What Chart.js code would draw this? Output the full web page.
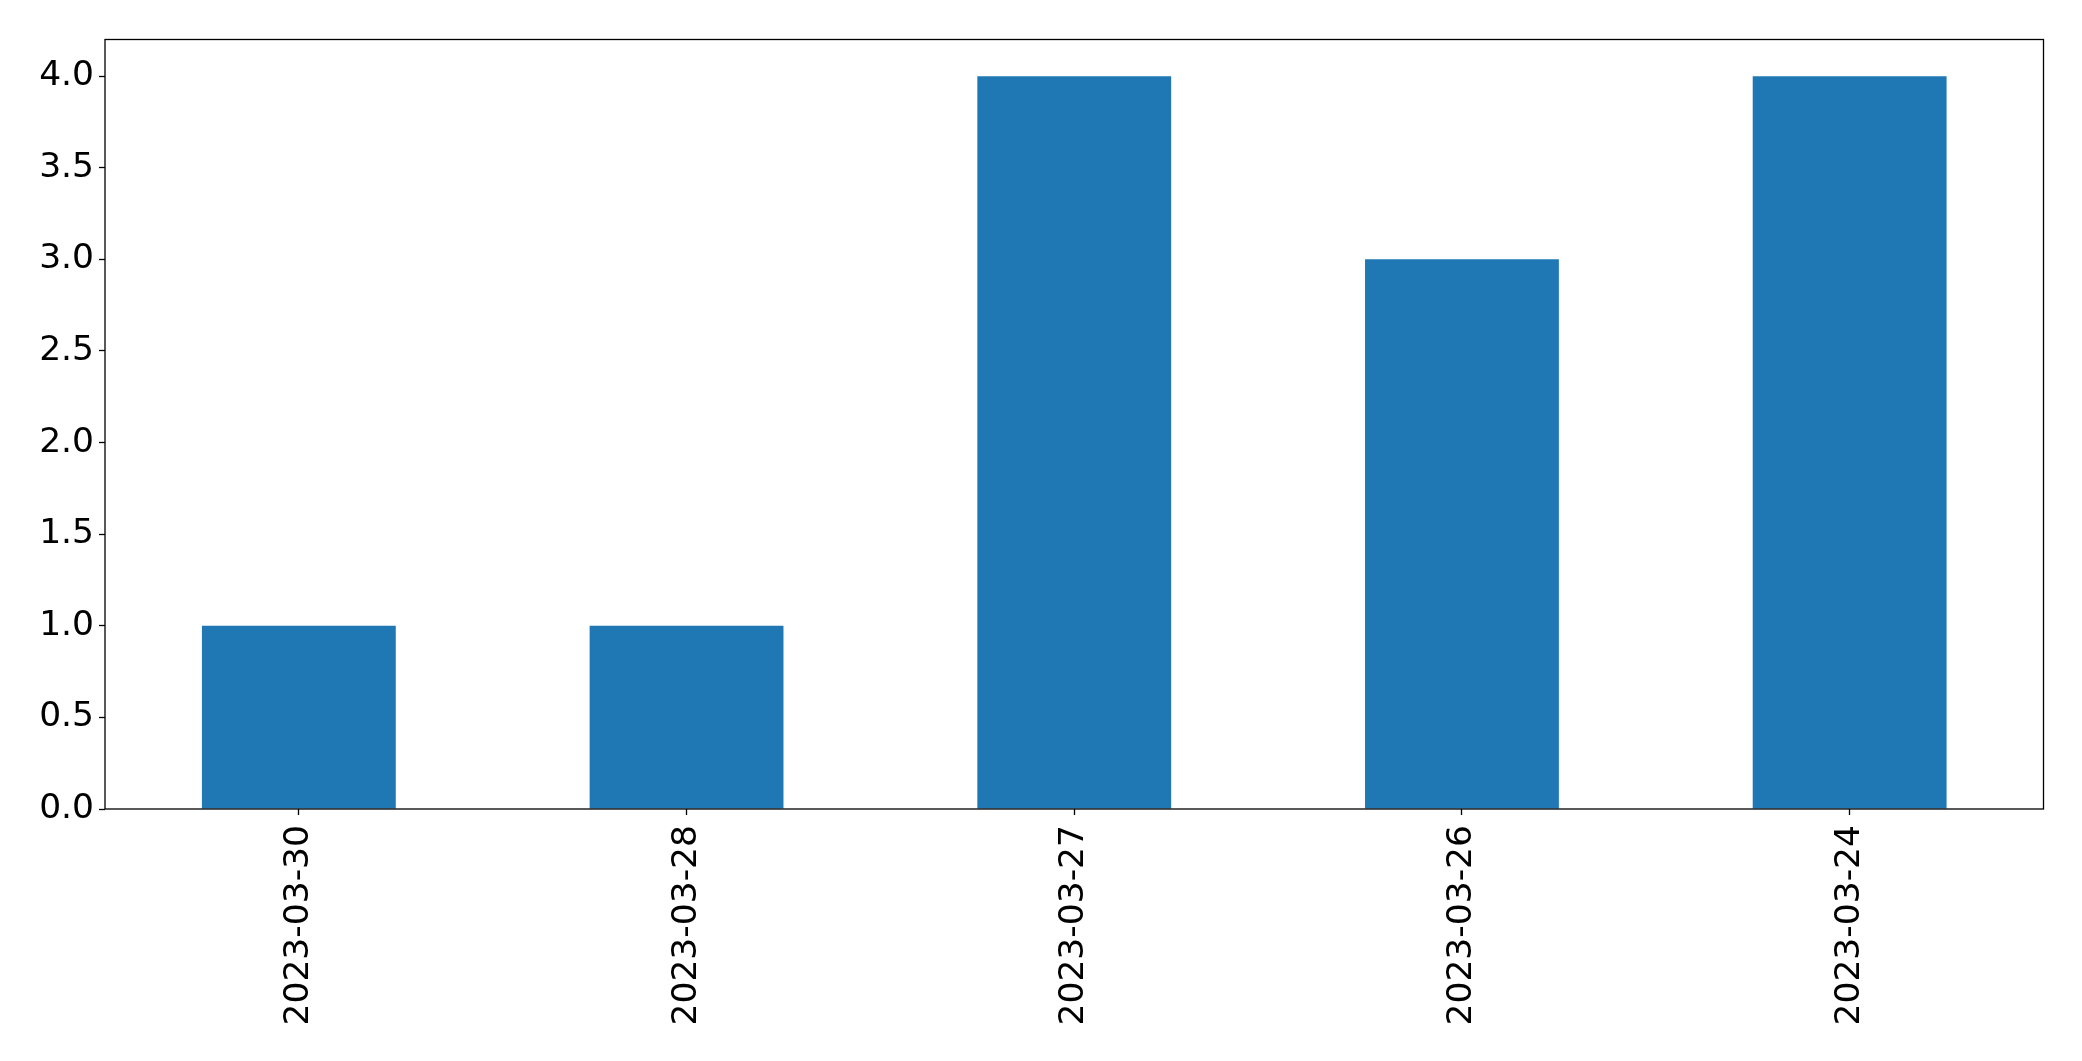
<!DOCTYPE html>
<html>
<head>
<meta charset="utf-8">
<script src="https://cdn.jsdelivr.net/npm/chart.js@4/dist/chart.umd.min.js"></script>
<style>
html,body{margin:0;padding:0;background:#fff;}
#wrap{width:2082px;height:1061px;position:relative;}
</style>
</head>
<body>
<div id="wrap"><canvas id="c" width="2082" height="1061"></canvas></div>
<script>
const categories = ["2023-03-30", "2023-03-28", "2023-03-27", "2023-03-26", "2023-03-24"];
const values = [1, 1, 4, 3, 4];
const yTickValues = [0, 0.5, 1.0, 1.5, 2.0, 2.5, 3.0, 3.5, 4.0];

const frame = {
  id: 'frame',
  afterDraw(chart) {
    const a = chart.chartArea, ctx = chart.ctx;
    ctx.save();
    ctx.strokeStyle = '#000';
    ctx.lineWidth = 1.3;
    ctx.strokeRect(a.left, a.top, a.right - a.left, a.bottom - a.top);
    ctx.restore();
  }
};

new Chart(document.getElementById('c'), {
  type: 'bar',
  data: {
    labels: categories,
    datasets: [{
      data: values,
      backgroundColor: '#1f77b4',
      borderWidth: 0,
      categoryPercentage: 1.0,
      barPercentage: 0.5
    }]
  },
  options: {
    responsive: false,
    animation: false,
    devicePixelRatio: 1,
    layout: { padding: { top: 39.5, right: 38.5, left: 0, bottom: 0 } },
    plugins: { legend: { display: false }, tooltip: { enabled: false } },
    scales: {
      x: {
        afterFit(s) { s.height = 252; },
        grid: { display: true, offset: false, drawOnChartArea: false, tickLength: 6, tickColor: '#000', tickWidth: 1.3 },
        border: { display: false },
        ticks: {
          color: '#000',
          font: { family: 'DejaVu Sans', size: 34.5 },
          minRotation: 90, maxRotation: 90,
          padding: 10,
          autoSkip: false
        }
      },
      y: {
        min: 0, max: 4.2,
        afterFit(s) { s.width = 105; },
        afterBuildTicks(s) { s.ticks = yTickValues.map(v => ({ value: v })); },
        grid: { display: true, drawOnChartArea: false, tickLength: 6, tickColor: '#000', tickWidth: 1.3 },
        border: { display: false },
        ticks: {
          color: '#000',
          font: { family: 'DejaVu Sans', size: 34.5 },
          padding: 5,
          callback: v => Number(v).toFixed(1)
        }
      }
    }
  },
  plugins: [frame]
});
</script>
</body>
</html>
